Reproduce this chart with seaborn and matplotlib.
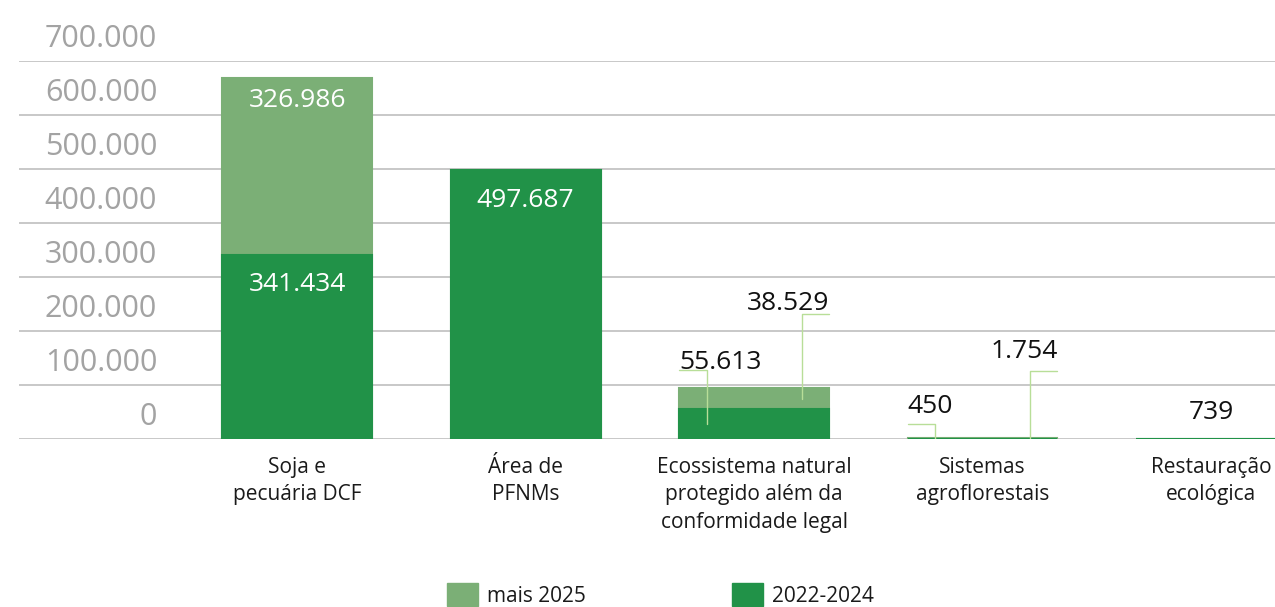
import numpy as np
import pandas as pd
import matplotlib.pyplot as plt
import seaborn as sns
from matplotlib.patches import Patch
from matplotlib.transforms import ScaledTranslation, blended_transform_factory

# data
categorias = ['Soja e\npecuária DCF', 'Área de\nPFNMs',
              'Ecossistema natural\nprotegido além da\nconformidade legal',
              'Sistemas\nagroflorestais', 'Restauração\necológica']
ate_2024 = [341434, 497687, 55613, 450, 739]      # 2022-2024
mais_2025 = [326986, 0, 38529, 1754, 0]           # mais 2025
y_ticks = np.arange(0, 800000, 100000)
y_labels = ['0', '100.000', '200.000', '300.000', '400.000', '500.000', '600.000', '700.000']

claro = '#7BAF76'
escuro = '#219248'
linha = '#b8de98'
w = 0.656

def fmt(v):
    return f'{v:,}'.replace(',', '.')

sns.set_theme(style='white')
plt.rcParams['font.family'] = ['Open Sans', 'DejaVu Sans']

df = pd.DataFrame({'cat': categorias, 'base': ate_2024, 'extra': mais_2025})
df['total'] = df['base'] + df['extra']

fig = plt.figure(figsize=(12.75, 6.07), dpi=100)
ax = fig.add_axes([19/1275, 168/607, 1256/1275, 378/607])

# stacked bars: light total first, dark base on top; thin edge in the same colour keeps tiny bars visible
sns.barplot(data=df, x='cat', y='total', color=claro, saturation=1, width=w, errorbar=None, ax=ax,
            edgecolor=claro, linewidth=1.5)
sns.barplot(data=df, x='cat', y='base', color=escuro, saturation=1, width=w, errorbar=None, ax=ax,
            edgecolor=escuro, linewidth=1.5)

ax.set_xlim(-1.217, 4.28)
ax.set_ylim(0, 700000)
ax.set_yticks(y_ticks)
ax.set_yticklabels([])
ax.tick_params(axis='y', length=0)
ax.yaxis.grid(True, color='#bfbfbf', lw=1.2)
ax.set_axisbelow(True)
for s in ax.spines.values():
    s.set_visible(False)
ax.set_xlabel('')
ax.set_ylabel('')
ax.tick_params(axis='x', length=0, pad=13, labelsize=15, labelcolor='#1a1a1a')
for t in ax.get_xticklabels():
    t.set_linespacing(1.4)

# y labels sit between the gridlines
trans = blended_transform_factory(ax.transAxes, ax.transData) + ScaledTranslation(0, 14/100, fig.dpi_scale_trans)
for v, lab in zip(y_ticks, y_labels):
    ax.text(0.110, v, lab, transform=trans, ha='right', va='baseline', fontsize=22, color='#a3a3a3')

# white labels inside the big bars
for i in range(len(categorias)):
    if ate_2024[i] > 100000:
        ax.annotate(fmt(ate_2024[i]), (i, ate_2024[i]), xytext=(0, -30*0.72), textcoords='offset points',
                    ha='center', va='center', color='white', fontsize=19)
    if mais_2025[i] > 100000:
        tot = ate_2024[i] + mais_2025[i]
        ax.annotate(fmt(mais_2025[i]), (i, tot), xytext=(0, -22*0.72), textcoords='offset points',
                    ha='center', va='center', color='white', fontsize=19)

# callouts for the small bars
lead = 0.12
base_lvl = {2: 128000, 3: 28000}
base_gap = {2: 1, 3: 11}
extra_lvl = {2: 231000, 3: 126000}
extra_gap = {2: 4, 3: 13}

for i, lvl in base_lvl.items():
    x0 = i - w/2
    ax.plot([x0, x0 + lead, x0 + lead], [lvl, lvl, ate_2024[i]/2], color=linha, lw=1, zorder=3)
    ax.annotate(fmt(ate_2024[i]), (x0, lvl), xytext=(0, base_gap[i]*0.72), textcoords='offset points',
                ha='left', va='baseline', fontsize=19, color='#111111')

for i, lvl in extra_lvl.items():
    x1 = i + w/2
    ax.plot([x1, x1 - lead, x1 - lead], [lvl, lvl, ate_2024[i] + mais_2025[i]/2], color=linha, lw=1, zorder=3)
    ax.annotate(fmt(mais_2025[i]), (x1, lvl), xytext=(0, extra_gap[i]*0.72), textcoords='offset points',
                ha='right', va='baseline', fontsize=19, color='#111111')

ax.annotate(fmt(ate_2024[4]), (4, ate_2024[4]), xytext=(0, 20*0.72), textcoords='offset points',
            ha='center', va='baseline', fontsize=19, color='#111111')

fig.legend(handles=[Patch(color=claro, label='mais 2025'), Patch(color=escuro, label='2022-2024')],
           loc='center', bbox_to_anchor=(0.518, 0.02), ncol=2, frameon=False, fontsize=15,
           handlelength=1.5, handleheight=1.3, handletextpad=0.45, columnspacing=7.0,
           borderpad=0, borderaxespad=0, labelcolor='#1a1a1a')

fig.savefig('out.png', dpi=100)
